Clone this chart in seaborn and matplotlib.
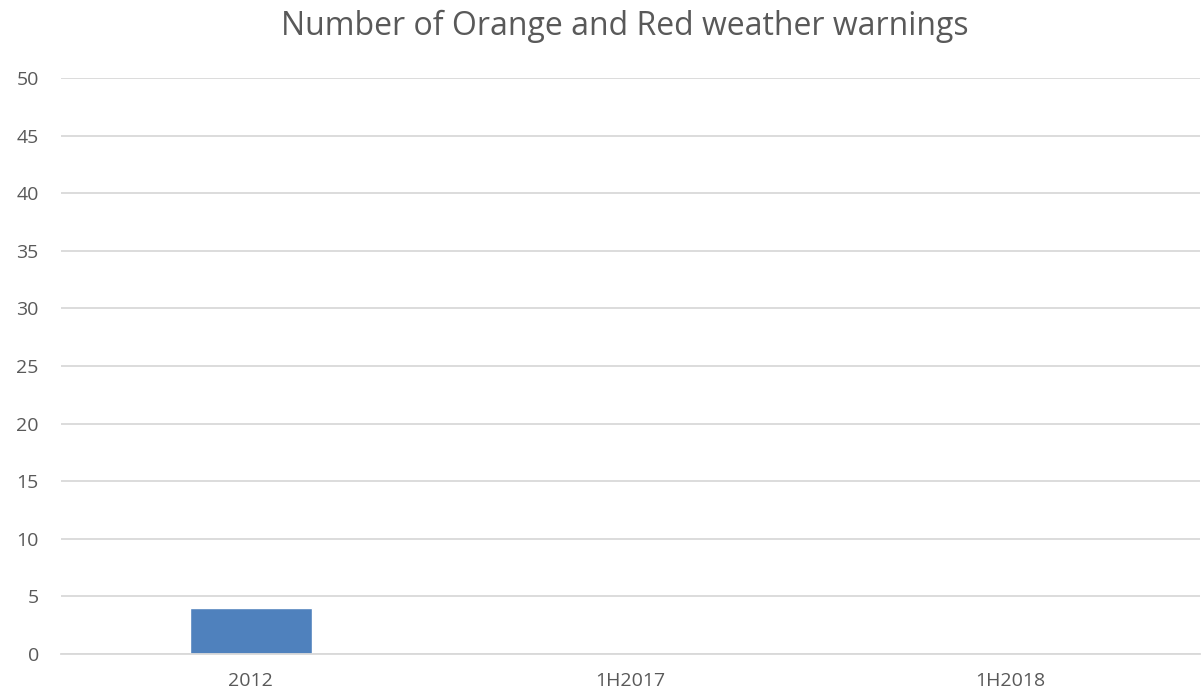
import matplotlib
matplotlib.use("Agg")
import matplotlib.pyplot as plt
import seaborn as sns
import pandas as pd

categories = ["2012", "1H2017", "1H2018"]
warnings_count = [4, 0, 0]
y_ticks = [0, 5, 10, 15, 20, 25, 30, 35, 40, 45, 50]

sns.set_theme(style="white")
plt.rcParams['font.family'] = ['Open Sans', 'DejaVu Sans']

df = pd.DataFrame({"period": categories, "count": warnings_count})

fig = plt.figure(figsize=(12.01, 6.97), dpi=100)
ax = fig.add_axes([0.0508, 0.0617, 0.9484, 0.8264])
sns.barplot(data=df, x="period", y="count", color="#4F81BD", width=0.32,
            saturation=1, ax=ax)
ax.set_ylim(0, 50)
ax.set_yticks(y_ticks)
ax.set_xlim(-0.5, 2.5)
ax.yaxis.grid(True, color="#D9D9D9", linewidth=1.3)
ax.set_axisbelow(True)
for s in ["top", "right", "left"]:
    ax.spines[s].set_visible(False)
ax.spines["bottom"].set_color("#D9D9D9")
ax.spines["bottom"].set_linewidth(1.3)
ax.tick_params(axis="both", length=0, labelsize=14, labelcolor="#595959")
ax.tick_params(axis="y", pad=16)
ax.tick_params(axis="x", pad=13)
ax.set_xlabel("")
ax.set_ylabel("")
fig.text(0.52, 0.9498, "Number of Orange and Red weather warnings", ha="center",
         va="baseline", fontsize=23, color="#595959")
fig.savefig("out.png", dpi=100)
